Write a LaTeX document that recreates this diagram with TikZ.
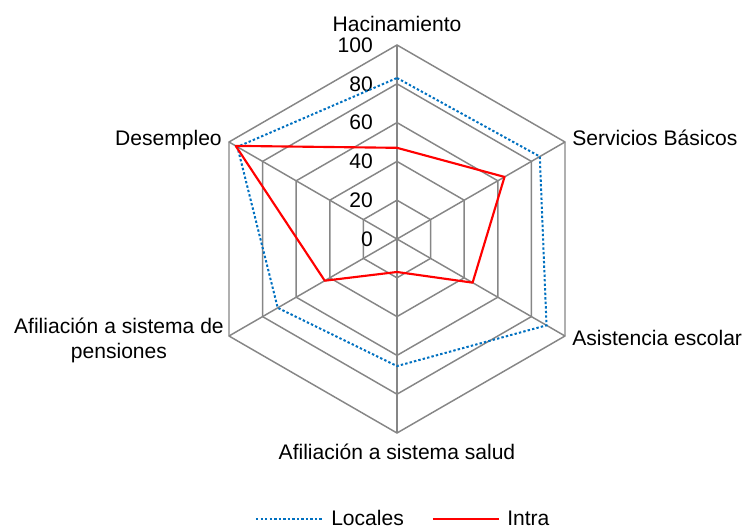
\documentclass[tikz,border=0pt]{standalone}
\usepackage{fontspec}
\setmainfont{Liberation Sans}
\definecolor{azul}{RGB}{0,112,192}
\definecolor{gris}{RGB}{134,134,134}

\begin{document}
\begin{tikzpicture}[x=0.75pt, y=0.75pt, font=\fontsize{15.8}{18.75}\selectfont,
  rejilla/.style={draw=gris, line width=1.1pt},
  locales/.style={draw=azul, line width=1.5pt, dash pattern=on 1.8pt off 1.6pt},
  intra/.style={draw=red, line width=1.6pt, line join=round},
  eje/.style={inner sep=0pt}]
\useasboundingbox (-397,-290) rectangle (347,239);
\def\k{1.94}
% hexagons and spokes
\foreach \r in {20,40,60,80,100}
  \draw[rejilla] (90:{\r*\k}) -- (30:{\r*\k}) -- (-30:{\r*\k}) -- (-90:{\r*\k})
    -- (-150:{\r*\k}) -- (150:{\r*\k}) -- cycle;
\foreach \a in {90,30,-30,-90,-150,150}
  \draw[rejilla] (0,0) -- (\a:{100*\k});
% scale
\foreach \v in {0,20,40,60,80,100}
  \node[eje, anchor=east] (t\v) at (-24,{\v*\k}) {\v};
% series
\foreach \a/\v [count=\i] in {90/83,30/85,-30/89,-90/65.5,-150/71,150/95}
  \coordinate (l\i) at (\a:{\v*\k});
\foreach \a/\v [count=\i] in {90/47,30/64,-30/45,-90/17,-150/43,150/96}
  \coordinate (r\i) at (\a:{\v*\k});
\draw[locales] (l1) -- (l2) -- (l3) -- (l4) -- (l5) -- (l6) -- cycle;
\draw[intra] (r1) -- (r2) -- (r3) -- (r4) -- (r5) -- (r6) -- cycle;
% axis labels
\node[eje, anchor=base] (hac) at (0,207) {Hacinamiento};
\node[eje, anchor=base west] (ser) at (175,93.5) {Servicios Básicos};
\node[eje, anchor=base west] (asi) at (175,-106.5) {Asistencia escolar};
\node[eje, anchor=base] (sal) at (0,-220.5) {Afiliación a sistema salud};
\node[eje, anchor=east, align=center] (pen) at (-173,-101) {Afiliación a sistema de\\pensiones};
\node[eje, anchor=base east] (des) at (-175,93.5) {Desempleo};
% legend
\coordinate (la) at (-141,-280);
\coordinate (lb) at (-75,-280);
\coordinate (ra) at (36,-280);
\coordinate (rb) at (102,-280);
\draw[locales] (la) -- (lb);
\draw[intra] (ra) -- (rb);
\node[eje, anchor=base west] (loc) at (-66,-286) {Locales};
\node[eje, anchor=base west] (int) at (110,-286) {Intra};
\end{tikzpicture}
\end{document}
